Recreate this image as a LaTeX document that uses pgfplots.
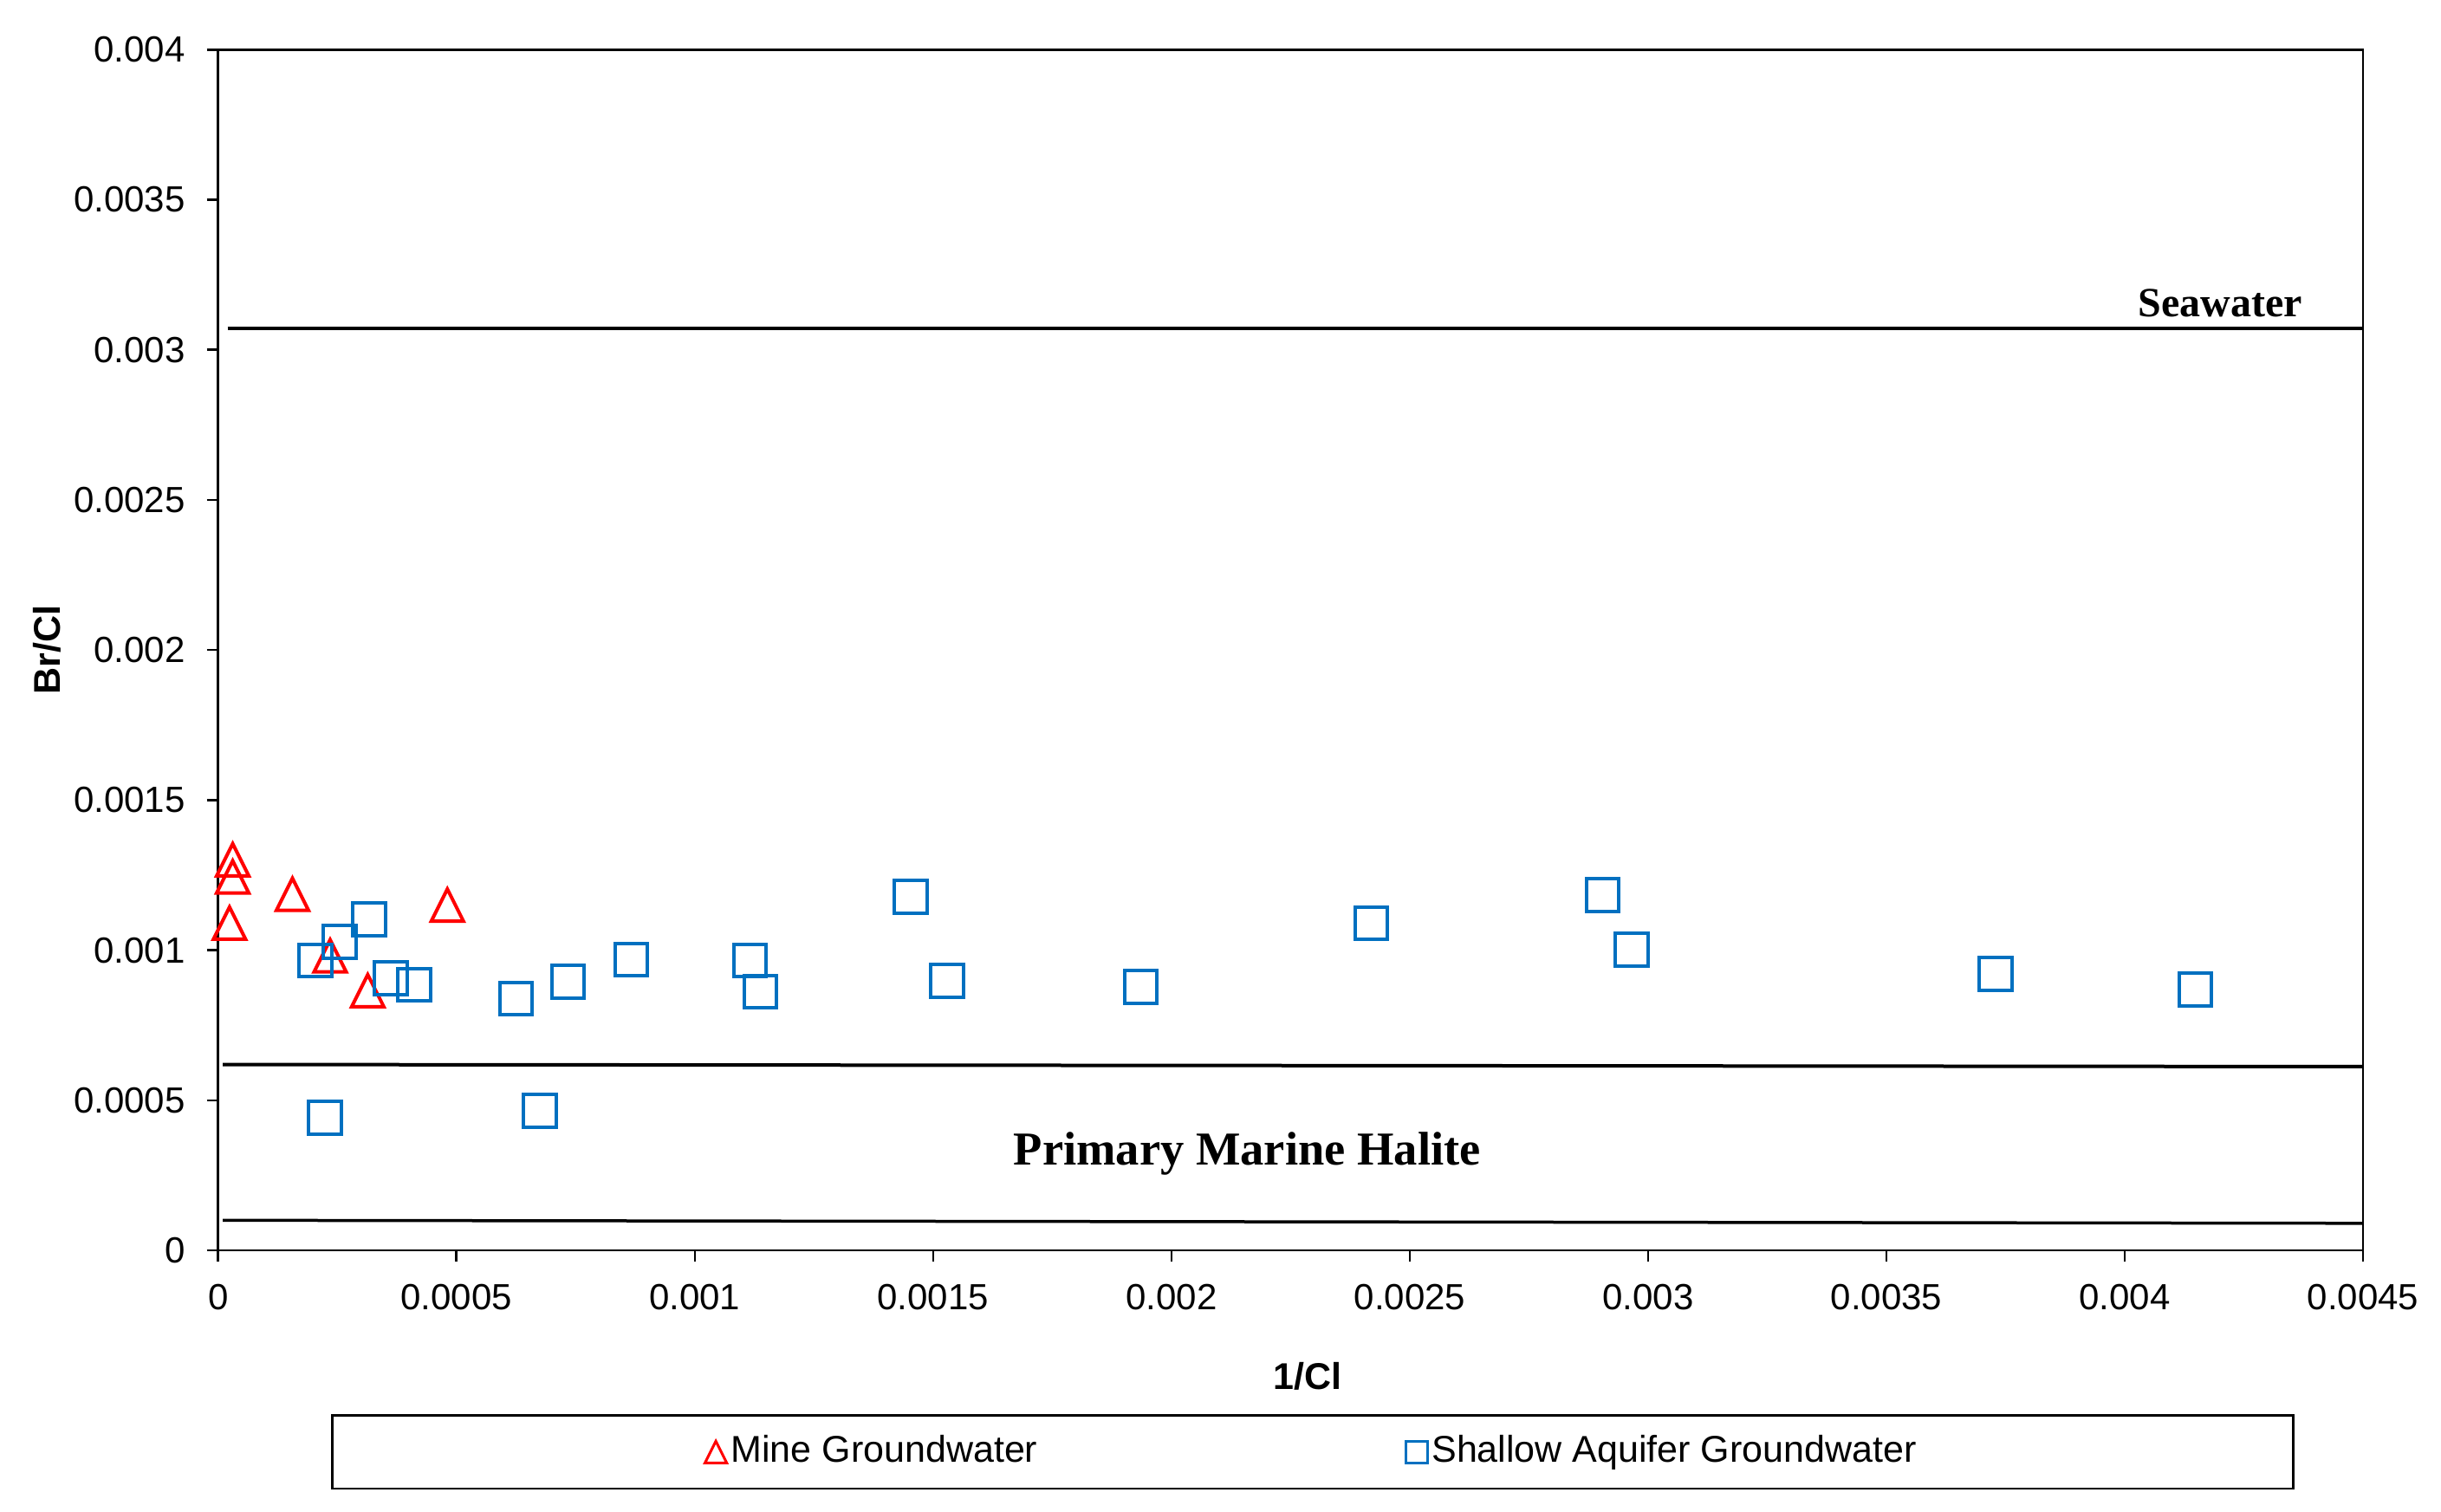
\documentclass[border=0pt]{standalone}
\usepackage{fontspec}
\setmainfont{Liberation Sans}
\newfontfamily\tnr{Liberation Serif}
\usepackage{pgfplots}
\pgfplotsset{compat=1.18}
\definecolor{mblue}{RGB}{0,112,192}
\definecolor{mred}{RGB}{255,0,0}
\pgfdeclareplotmark{xtri}{%
  \pgfpathmoveto{\pgfqpoint{0pt}{\pgfplotmarksize}}%
  \pgfpathlineto{\pgfqpoint{-\pgfplotmarksize}{-\pgfplotmarksize}}%
  \pgfpathlineto{\pgfqpoint{\pgfplotmarksize}{-\pgfplotmarksize}}%
  \pgfpathclose\pgfusepathqstroke}
\pgfplotsset{mylegimg/.style={legend image code/.code={\draw[##1, mark size=2.5pt, mark options={line width=0.6pt}] plot coordinates {(0pt,0pt)};}}}
\begin{document}
\begin{tikzpicture}
\begin{axis}[
  scale only axis, width=495.06pt, height=277.14pt,
  xmin=0, xmax=0.0045, ymin=0, ymax=0.004,
  xtick={0,0.0005,0.001,0.0015,0.002,0.0025,0.003,0.0035,0.004,0.0045},
  xticklabels={0,0.0005,0.001,0.0015,0.002,0.0025,0.003,0.0035,0.004,0.0045},
  ytick={0,0.0005,0.001,0.0015,0.002,0.0025,0.003,0.0035,0.004},
  yticklabels={0,0.0005,0.001,0.0015,0.002,0.0025,0.003,0.0035,0.004},
  scaled ticks=false,
  tick align=outside, xtick pos=bottom, ytick pos=left,
  major tick length=2.6pt,
  axis line style={line width=0.5pt},
  every tick/.style={black, line width=0.5pt},
  ticklabel style={font=\fontsize{8.4}{10}\selectfont},
  xticklabel style={yshift=-1.8pt},
  yticklabel style={xshift=-1.5pt},
  xlabel={1/Cl}, ylabel={Br/Cl},
  label style={font=\fontsize{8.6}{10}\selectfont\bfseries},
  xlabel style={at={([yshift=-29pt]rel axis cs:0.508,0)}, anchor=center},
  ylabel style={at={([xshift=-39.5pt]rel axis cs:0,0.5)}, anchor=center},
  legend columns=2,
  legend style={at={(rel axis cs:0.5104,-0.168)}, anchor=center, draw=black, line width=0.5pt,
    font=\fontsize{8.6}{10}\selectfont, inner xsep=86pt, inner ysep=2.6pt,
    nodes={inner xsep=1pt},
    /tikz/every even column/.append style={column sep=84pt}},
]
\addplot[black, line width=0.8pt, no marks, forget plot] coordinates {(0.00002,0.00307)(0.0045,0.00307)};
\addplot[black, line width=0.8pt, no marks, forget plot] coordinates {(0.00001,0.000619)(0.0045,0.000612)};
\addplot[black, line width=0.7pt, no marks, forget plot] coordinates {(0.00001,0.0001)(0.0045,0.00009)};

\addplot[only marks, mark=xtri, mark size=3.7pt, draw=mred, mark options={line width=0.8pt, fill=none}, mylegimg]
coordinates {
(3.07e-5,0.001301)
(3.07e-5,0.001244)
(1.56e-4,0.001186)
(2.4e-5,0.001090)
(2.35e-4,0.000981)
(4.81e-4,0.001150)
(3.14e-4,0.000865)
};
\addlegendentry{Mine Groundwater}

\addplot[only marks, mark=square, mark size=3.75pt, draw=mblue, mark options={line width=0.8pt, fill=none}, mylegimg]
coordinates {
(2.04e-4,0.000965)
(2.55e-4,0.001028)
(3.17e-4,0.001103)
(3.62e-4,0.000907)
(4.11e-4,0.000884)
(6.25e-4,0.000838)
(7.34e-4,0.000895)
(8.67e-4,0.000968)
(1.116e-3,0.000965)
(1.138e-3,0.000861)
(2.24e-4,0.000442)
(6.75e-4,0.000465)
(1.453e-3,0.001178)
(1.529e-3,0.000898)
(1.936e-3,0.000878)
(2.419e-3,0.001089)
(2.905e-3,0.001184)
(2.966e-3,0.001002)
(3.729e-3,0.000921)
(4.148e-3,0.000869)
};
\addlegendentry{Shallow Aquifer Groundwater}

\node[font=\tnr\bfseries\fontsize{9.6}{11}\selectfont, anchor=base] at (axis cs:0.0042,0.003109) {Seawater};
\node[font=\tnr\bfseries\fontsize{10.9}{13}\selectfont, anchor=base] at (axis cs:0.002159,0.000283) {Primary Marine Halite};
\coordinate (A) at (rel axis cs:0,0);
\coordinate (B) at (rel axis cs:1,1);
\end{axis}
\pgfresetboundingbox
\path ([shift={(-50.34pt,-60.4pt)}]A) rectangle ([shift={(18pt,11.46pt)}]B);
\end{tikzpicture}
\end{document}
